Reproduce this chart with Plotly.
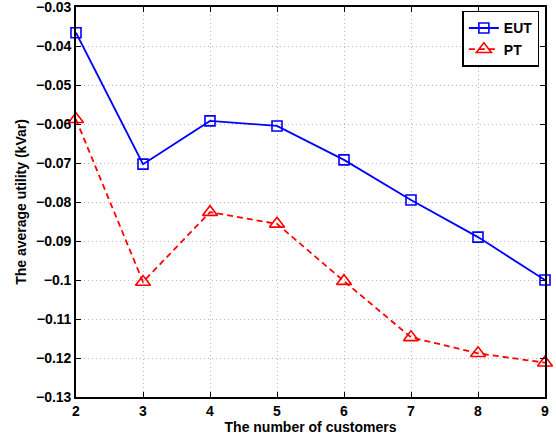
import plotly.graph_objects as go

customers = [2, 3, 4, 5, 6, 7, 8, 9]
eut = [-0.0366, -0.0703, -0.0592, -0.0605, -0.0692, -0.0795, -0.0890, -0.1000]
pt = [-0.0588, -0.1005, -0.0826, -0.0856, -0.1003, -0.1147, -0.1188, -0.1212]
ytick_vals = [-0.13, -0.12, -0.11, -0.10, -0.09, -0.08, -0.07, -0.06, -0.05, -0.04, -0.03]
ytick_text = ["\u22120.13", "\u22120.12", "\u22120.11", "\u22120.1", "\u22120.09", "\u22120.08",
              "\u22120.07", "\u22120.06", "\u22120.05", "\u22120.04", "\u22120.03"]

FAM = "Liberation Sans, Arial, sans-serif"
bold = dict(family=FAM, size=14, color="black", weight="bold")

fig = go.Figure()
fig.add_trace(go.Scatter(x=customers, y=eut, name="EUT", mode="lines+markers",
                         line=dict(color="#0000ff", width=1.8),
                         marker=dict(symbol="square-open", size=10, color="#0000ff",
                                     line=dict(width=1.6, color="#0000ff")),
                         cliponaxis=False))
fig.add_trace(go.Scatter(x=customers, y=pt, name="PT", mode="lines+markers",
                         line=dict(color="#ff0000", width=1.8, dash="6px,4px"),
                         marker=dict(symbol="triangle-up-open", size=13, color="#ff0000",
                                     line=dict(width=1.6, color="#ff0000")),
                         cliponaxis=False))

fig.update_layout(
    width=556, height=436,
    margin=dict(l=76, r=11, t=7, b=39),
    paper_bgcolor="white", plot_bgcolor="white",
    font=dict(family=FAM, size=13, color="black"),
    showlegend=True,
    legend=dict(x=0.988, y=0.99, xanchor="right", yanchor="top",
                bgcolor="white", bordercolor="black", borderwidth=1.5,
                font=bold, tracegroupgap=0, itemwidth=30),
)
grid = dict(showgrid=True, gridcolor="#bdbdbd", griddash="1px,3px", gridwidth=1)
fig.update_xaxes(range=[2, 9], tickvals=customers, automargin=False, ticklabeloverflow="allow",
                 showline=True, linecolor="black", linewidth=1.6, mirror="ticks",
                 ticks="inside", ticklen=5, tickcolor="black",
                 zeroline=False, tickfont=bold, **grid,
                 title=dict(text="The number of customers", standoff=2, font=bold))
fig.update_yaxes(range=[-0.13, -0.03], tickvals=ytick_vals, ticktext=ytick_text, automargin=False,
                 ticklabeloverflow="allow",
                 showline=True, linecolor="black", linewidth=1.6, mirror="ticks",
                 ticks="inside", ticklen=5, tickcolor="black",
                 zeroline=False, tickfont=bold, **grid,
                 title=dict(text="The average utility (kVar)", standoff=6, font=bold))

fig.write_html("out.html", config={"displayModeBar": False},
               post_script="document.body.style.margin='0';")
